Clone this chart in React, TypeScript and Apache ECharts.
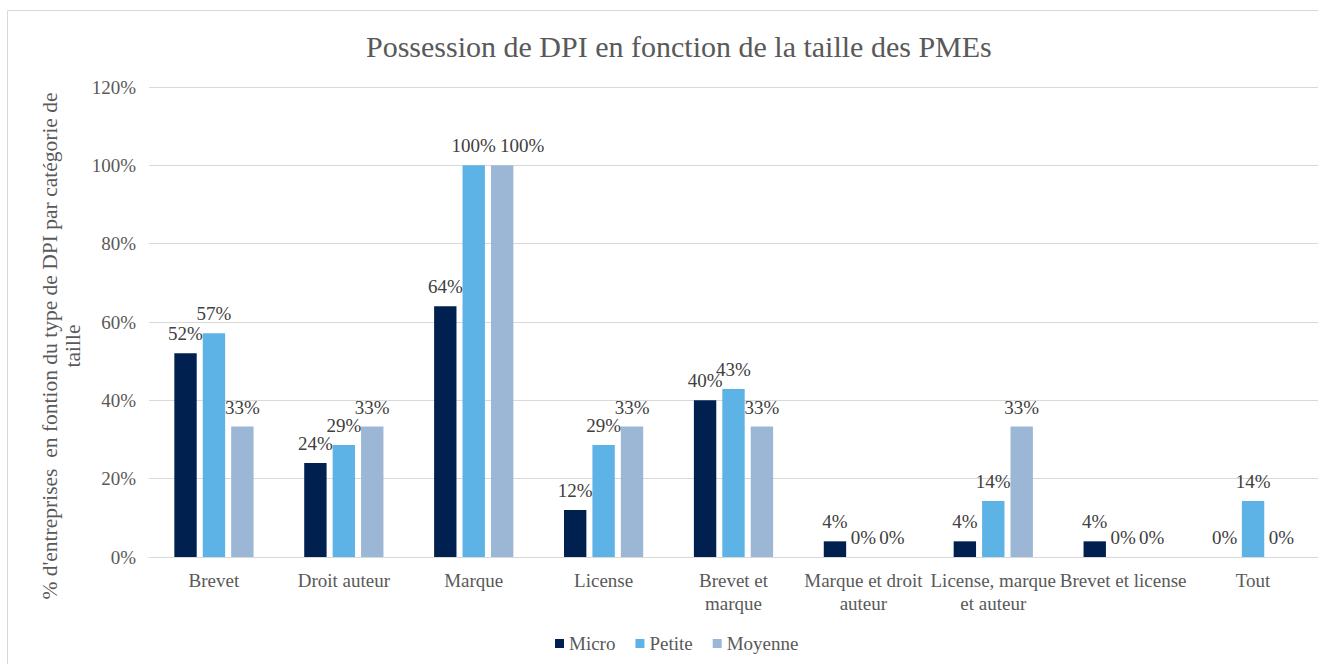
import React, { useEffect, useRef } from "react";
import * as echarts from "echarts";

const categories = [
  "Brevet",
  "Droit auteur",
  "Marque",
  "License",
  "Brevet et\nmarque",
  "Marque et droit\nauteur",
  "License, marque\net auteur",
  "Brevet et license",
  "Tout",
];
const micro = [52, 24, 64, 12, 40, 4, 4, 4, 0];
const petite = [57.1, 28.6, 100, 28.6, 42.9, 0, 14.3, 0, 14.3];
const moyenne = [33.3, 33.3, 100, 33.3, 33.3, 0, 33.3, 0, 0];
const seriesNames = ["Micro", "Petite", "Moyenne"];
const colors = ["#00214F", "#5DB3E6", "#9CB7D6"];
const yTicks = { min: 0, max: 120, interval: 20 };

const FONT = "Liberation Serif";

export default function App() {
  const ref = useRef<HTMLDivElement>(null);
  useEffect(() => {
    if (!ref.current) return;
    const chart = echarts.init(ref.current, undefined, { renderer: "svg" });
    const values = [micro, petite, moyenne];
    chart.setOption({
      animation: false,
      backgroundColor: "#ffffff",
      textStyle: { fontFamily: FONT },
      title: {
        text: "Possession de DPI en fonction de la taille des PMEs",
        left: 361,
        top: 26,
        textStyle: {
          fontFamily: FONT,
          fontSize: 30,
          fontWeight: "normal",
          color: "#595959",
        },
      },
      legend: {
        top: 629,
        left: 550,
        itemWidth: 9,
        itemHeight: 9,
        itemGap: 20,
        icon: "rect",
        textStyle: { fontFamily: FONT, fontSize: 19, color: "#595959" },
        data: seriesNames,
      },
      grid: { left: 149, right: 0, top: 87, bottom: 107, containLabel: false },
      xAxis: {
        type: "category",
        data: categories,
        axisLine: { lineStyle: { color: "#d9d9d9", width: 1 } },
        axisTick: { show: false },
        axisLabel: {
          fontFamily: FONT,
          fontSize: 19,
          color: "#595959",
          margin: 12,
          lineHeight: 23,
          interval: 0,
        },
      },
      yAxis: {
        type: "value",
        min: yTicks.min,
        max: yTicks.max,
        interval: yTicks.interval,
        axisLine: { show: false },
        axisTick: { show: false },
        splitLine: { lineStyle: { color: "#d9d9d9", width: 1 } },
        axisLabel: {
          formatter: "{value}%",
          fontFamily: FONT,
          fontSize: 19,
          color: "#595959",
          margin: 13,
        },
      },
      graphic: [
        {
          type: "line",
          shape: { x1: 7.5, y1: 10.5, x2: 1318, y2: 10.5 },
          style: { stroke: "#d9d9d9", lineWidth: 1 },
        },
        {
          type: "line",
          shape: { x1: 7.5, y1: 10.5, x2: 7.5, y2: 664 },
          style: { stroke: "#d9d9d9", lineWidth: 1 },
        },
        {
          type: "text",
          x: 61,
          y: 346,
          rotation: Math.PI / 2,
          style: {
            text: "% d'entreprises  en fontion du type de DPI par catégorie de\ntaille",
            fontFamily: FONT,
            fontSize: 21.5,
            lineHeight: 23,
            fill: "#595959",
            align: "center",
            verticalAlign: "middle",
          },
        },
      ],
      series: seriesNames.map((name, i) => ({
        name,
        type: "bar",
        data: values[i].map((v, j) =>
          i === 2 && v >= 99.5 && values[1][j] >= 99.5
            ? { value: v, label: { offset: [20, 0] } }
            : v
        ),
        barGap: "27%",
        barCategoryGap: "39%",
        itemStyle: { color: colors[i] },
        label: {
          show: true,
          position: "top",
          distance: 10,
          formatter: (p: any) => Math.round(p.value) + "%",
          fontFamily: FONT,
          fontSize: 19,
          color: "#404040",
        },
      })),
    });
    return () => chart.dispose();
  }, []);
  return (
    <div
      ref={ref}
      style={{ position: "fixed", left: 0, top: 0, width: 1318, height: 664 }}
    />
  );
}
